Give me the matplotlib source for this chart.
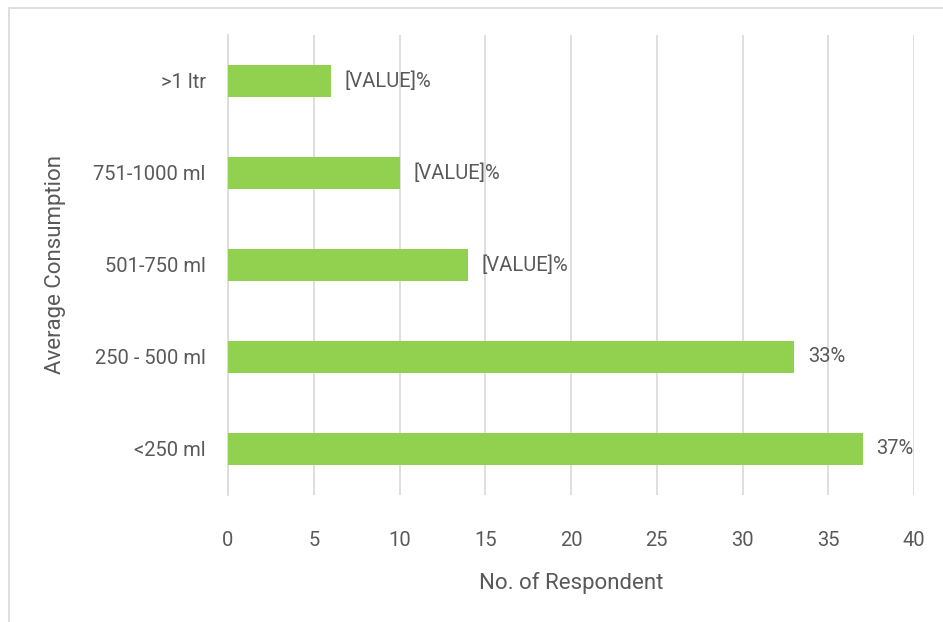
import matplotlib
matplotlib.use("Agg")
import matplotlib.pyplot as plt
from matplotlib.patches import Rectangle

categories = ["<250 ml", "250 - 500 ml", "501-750 ml", "751-1000 ml", ">1 ltr"]
respondents = [37, 33, 14, 10, 6]
bar_labels = ["37%", "33%", "[VALUE]%", "[VALUE]%", "[VALUE]%"]
xticks = [0, 5, 10, 15, 20, 25, 30, 35, 40]

plt.rcParams["font.family"] = ["Roboto", "DejaVu Sans"]
TXT = "#595959"

fig = plt.figure(figsize=(9.43, 6.22), dpi=100)
W, H = 943, 622
ax = fig.add_axes([228 / W, 1 - 495 / H, (914 - 228) / W, (495 - 35) / H])

y = range(len(categories))
ax.barh(y, respondents, height=0.35, color="#92D050", zorder=3)
for yi, v, lab in zip(y, respondents, bar_labels):
    ax.text(v + 0.8, yi, lab, va="center", ha="left", fontsize=14.5, color=TXT)

ax.set_xlim(0, 40)
ax.set_ylim(-0.5, len(categories) - 0.5)
ax.set_xticks(xticks)
ax.set_yticks(list(y))
ax.set_yticklabels(categories)
ax.tick_params(axis="both", length=0, labelsize=14.5, labelcolor=TXT)
ax.tick_params(axis="x", pad=26)
ax.tick_params(axis="y", pad=16)
ax.grid(axis="x", color="#D9D9D9", linewidth=1.2, zorder=0)
for s in ["top", "right", "bottom"]:
    ax.spines[s].set_visible(False)
ax.spines["left"].set_color("#D9D9D9")
ax.spines["left"].set_linewidth(1.2)
ax.set_xlabel("No. of Respondent", fontsize=16, color=TXT, labelpad=16)
ax.set_ylabel("Average Consumption", fontsize=16, color=TXT, labelpad=20)

# chart border (extends past right/bottom edge of image)
fig.patches.append(Rectangle((9 / W, -0.1), 1.2, 1 - 8 / H + 0.1, transform=fig.transFigure,
                             fill=False, edgecolor="#D9D9D9", linewidth=1.2))

fig.savefig("out.png", dpi=100)
